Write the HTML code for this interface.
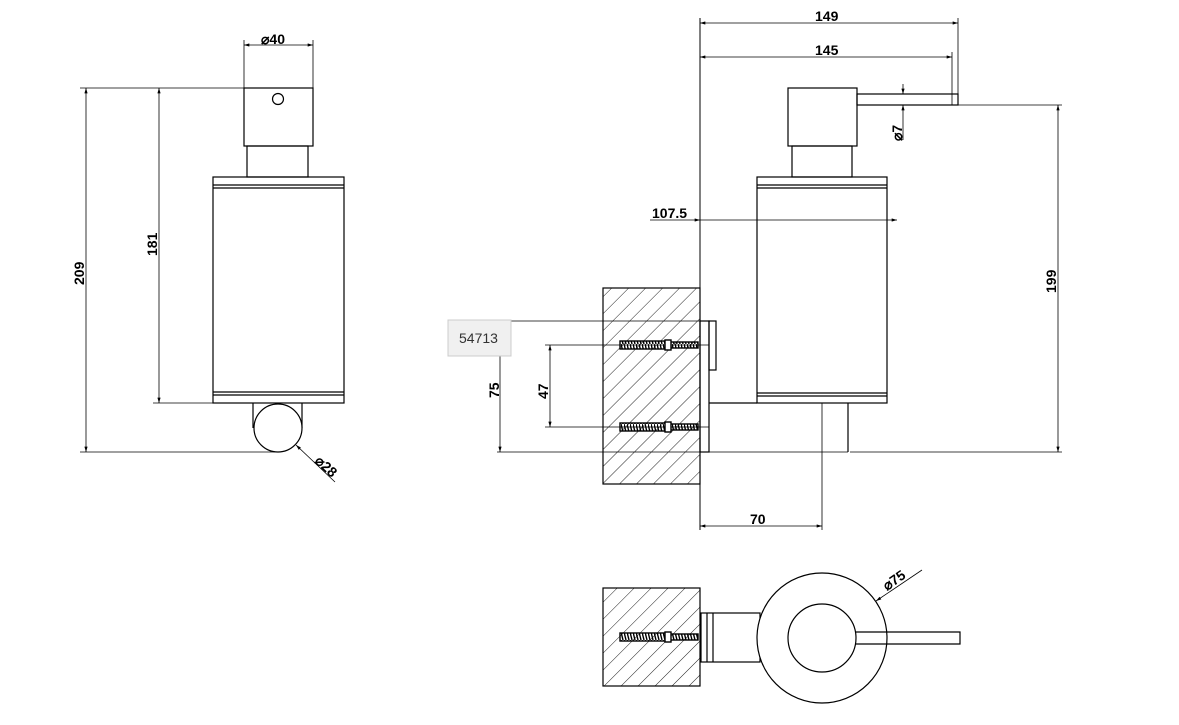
<!DOCTYPE html>
<html><head><meta charset="utf-8"><style>body{margin:0;background:#fff}svg{display:block}</style></head><body>
<svg width="1179" height="725" viewBox="0 0 1179 725" xmlns="http://www.w3.org/2000/svg" font-family="Liberation Sans, sans-serif">
<defs>
<pattern id="h" patternUnits="userSpaceOnUse" width="12" height="12" patternTransform="rotate(45)"><line x1="0" y1="0" x2="0" y2="12" stroke="#222" stroke-width="1"/></pattern>
<marker id="a" viewBox="0 0 10 6" refX="10" refY="3" markerWidth="8" markerHeight="4" orient="auto-start-reverse"><path d="M0,0L10,3L0,6z" fill="#000"/></marker>
<pattern id="sc" patternUnits="userSpaceOnUse" width="3" height="8"><line x1="0" y1="0" x2="2" y2="8" stroke="#000" stroke-width="1.4"/></pattern>
</defs>
<g stroke="#000" stroke-width="1.2" fill="none">
<!-- LEFT VIEW -->
<line x1="244" y1="40" x2="244" y2="88" stroke-width="0.8"/><line x1="313" y1="40" x2="313" y2="88" stroke-width="0.8"/>
<line x1="244" y1="45" x2="313" y2="45" stroke-width="0.8" marker-start="url(#a)" marker-end="url(#a)"/>
<rect x="244" y="88" width="69" height="58"/><circle cx="278" cy="99" r="5.5"/>
<rect x="247" y="146" width="61" height="31"/>
<rect x="213" y="177" width="131" height="226"/>
<line x1="213" y1="185" x2="344" y2="185"/><line x1="213" y1="188" x2="344" y2="188"/>
<line x1="213" y1="392" x2="344" y2="392"/><line x1="213" y1="395" x2="344" y2="395"/>
<line x1="253" y1="403" x2="253" y2="428"/><line x1="302" y1="403" x2="302" y2="428"/>
<circle cx="278" cy="428" r="24" fill="#fff"/>
<line x1="80" y1="88" x2="244" y2="88" stroke-width="0.8"/><line x1="80" y1="452" x2="278" y2="452" stroke-width="0.8"/>
<line x1="86" y1="88" x2="86" y2="452" stroke-width="0.8" marker-start="url(#a)" marker-end="url(#a)"/>
<line x1="153" y1="403" x2="213" y2="403" stroke-width="0.8"/>
<line x1="159" y1="88" x2="159" y2="403" stroke-width="0.8" marker-start="url(#a)" marker-end="url(#a)"/>
<line x1="296" y1="445" x2="335" y2="482" stroke-width="0.8" marker-start="url(#a)"/>
<!-- MIDDLE VIEW -->
<rect x="603" y="288" width="97" height="196" fill="url(#h)"/>
<line x1="700" y1="18" x2="700" y2="530" stroke-width="1"/>
<line x1="958" y1="18" x2="958" y2="105" stroke-width="0.8"/><line x1="952" y1="52" x2="952" y2="105" stroke-width="0.8"/>
<line x1="700" y1="23" x2="958" y2="23" stroke-width="0.8" marker-start="url(#a)" marker-end="url(#a)"/>
<line x1="700" y1="57" x2="952" y2="57" stroke-width="0.8" marker-start="url(#a)" marker-end="url(#a)"/>
<rect x="788" y="88" width="69" height="58"/>
<rect x="857" y="94" width="101" height="11"/>
<line x1="903" y1="84" x2="903" y2="94" stroke-width="0.8" marker-end="url(#a)"/>
<line x1="903" y1="140" x2="903" y2="105" stroke-width="0.8" marker-end="url(#a)"/>
<rect x="792" y="146" width="60" height="31"/>
<rect x="757" y="177" width="130" height="226"/>
<line x1="757" y1="185" x2="887" y2="185"/><line x1="757" y1="188" x2="887" y2="188"/>
<line x1="757" y1="393" x2="887" y2="393"/><line x1="757" y1="396" x2="887" y2="396"/>
<line x1="650" y1="220" x2="700" y2="220" stroke-width="0.8" marker-end="url(#a)"/>
<line x1="700" y1="220" x2="897" y2="220" stroke-width="0.8" marker-end="url(#a)"/>
<line x1="958" y1="105" x2="1062" y2="105" stroke-width="0.8"/>
<line x1="1058" y1="105" x2="1058" y2="452" stroke-width="0.8" marker-start="url(#a)" marker-end="url(#a)"/>
<rect x="700" y="321" width="9" height="131"/>
<rect x="709" y="321" width="7" height="49"/>
<line x1="709" y1="403" x2="757" y2="403"/>
<line x1="848" y1="403" x2="848" y2="452"/>
<line x1="822" y1="403" x2="822" y2="530" stroke-width="0.8"/>
<line x1="497" y1="452" x2="848" y2="452" stroke-width="0.8"/><line x1="850" y1="452" x2="1062" y2="452" stroke-width="0.8"/>
<line x1="511" y1="321" x2="716" y2="321" stroke-width="0.8"/>
<line x1="500" y1="356" x2="500" y2="452" stroke-width="0.8" marker-end="url(#a)"/>
<line x1="545" y1="345" x2="709" y2="345" stroke-width="0.8"/><line x1="545" y1="427" x2="709" y2="427" stroke-width="0.8"/>
<line x1="550" y1="345" x2="550" y2="427" stroke-width="0.8" marker-start="url(#a)" marker-end="url(#a)"/>
<line x1="700" y1="526" x2="822" y2="526" stroke-width="0.8" marker-start="url(#a)" marker-end="url(#a)"/>
<!-- anchors -->
<g stroke-width="1.4">
<rect x="620" y="341" width="50" height="8" fill="url(#sc)"/><rect x="670" y="342" width="28" height="6" fill="url(#sc)"/><rect x="665" y="340" width="6" height="10" fill="#fff"/>
<rect x="620" y="423" width="50" height="8" fill="url(#sc)"/><rect x="670" y="424" width="28" height="6" fill="url(#sc)"/><rect x="665" y="422" width="6" height="10" fill="#fff"/>
</g>
<!-- BOTTOM VIEW -->
<rect x="603" y="588" width="97" height="98" fill="url(#h)"/>
<rect x="701" y="613" width="59" height="49"/>
<line x1="707" y1="613" x2="707" y2="662"/><line x1="713" y1="613" x2="713" y2="662"/>
<circle cx="822" cy="638" r="65" fill="#fff"/>
<circle cx="822" cy="638" r="34"/>
<path d="M855,632 H960 V644 H855"/>
<g stroke-width="1.4"><rect x="620" y="633" width="50" height="8" fill="url(#sc)"/><rect x="670" y="634" width="28" height="6" fill="url(#sc)"/><rect x="665" y="632" width="6" height="10" fill="#fff"/></g>
<line x1="876" y1="601" x2="922" y2="570" stroke-width="0.8" marker-start="url(#a)"/>
</g>
<g font-weight="bold" font-size="14" fill="#000">
<text x="261" y="44">⌀40</text>
<text transform="translate(84,285) rotate(-90)">209</text>
<text transform="translate(157,256) rotate(-90)">181</text>
<text transform="translate(314,462) rotate(42)">⌀28</text>
<text x="815" y="21">149</text>
<text x="815" y="55">145</text>
<text x="652" y="218">107.5</text>
<text transform="translate(902,141) rotate(-90)">⌀7</text>
<text transform="translate(1056,293) rotate(-90)">199</text>
<text transform="translate(499,398) rotate(-90)">75</text>
<text transform="translate(548,399) rotate(-90)">47</text>
<text x="750" y="524">70</text>
<text transform="translate(887,591) rotate(-35)">⌀75</text>
</g>
<rect x="448" y="320" width="63" height="36" fill="#f0f0f0" stroke="#ccc"/>
<text x="459" y="343" font-size="14" fill="#333">54713</text>
</svg>
</body></html>
